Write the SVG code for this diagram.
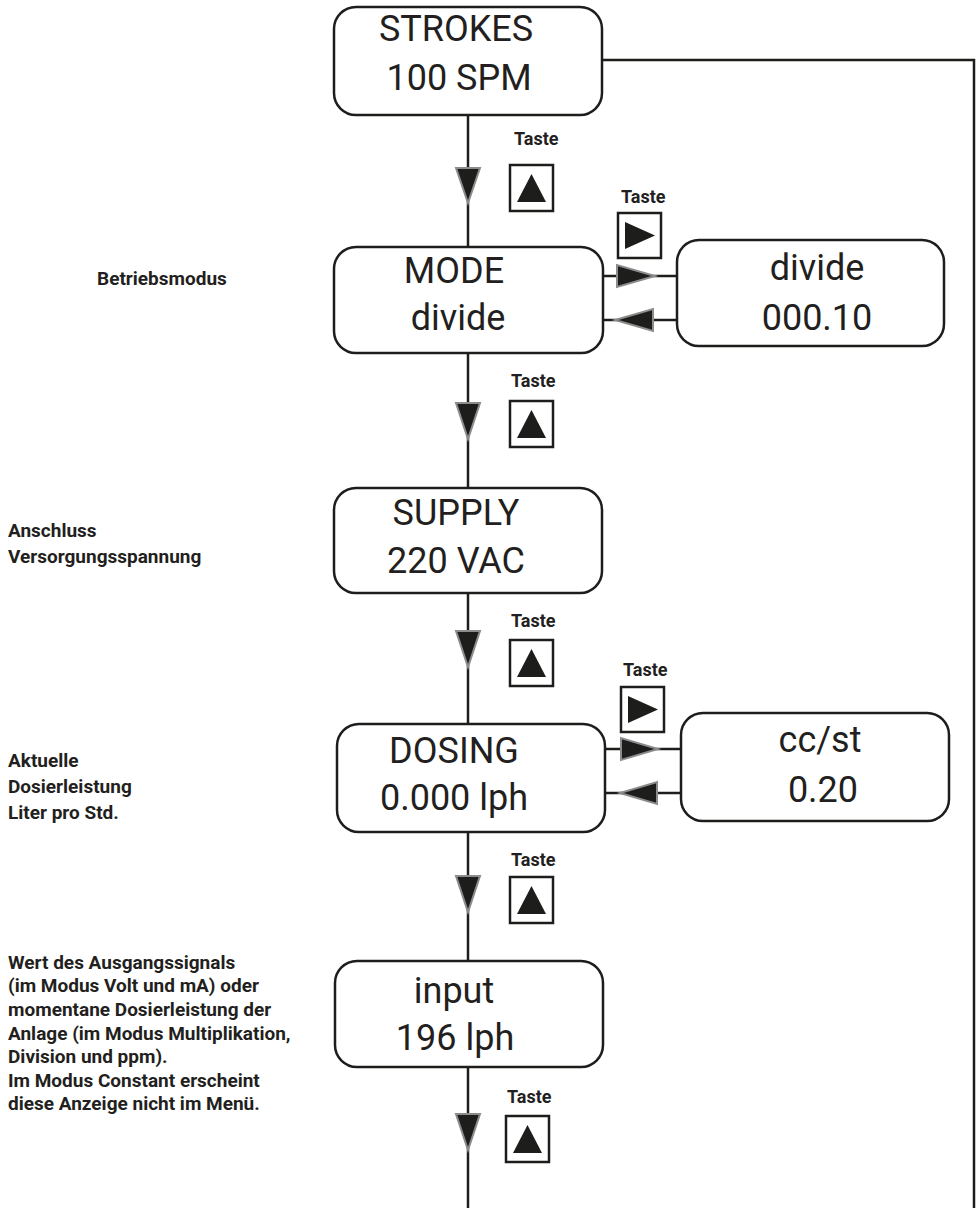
<svg xmlns="http://www.w3.org/2000/svg" width="980" height="1208" viewBox="0 0 980 1208">
<style>
.box{fill:#fff;stroke:#1d1d1b;stroke-width:2.5}
.big{font-family:Roboto,"Liberation Sans",sans-serif;font-size:36px;fill:#231f20;text-anchor:middle}
.lbl{font-family:Roboto,"Liberation Sans",sans-serif;font-weight:700;font-size:19px;fill:#231f20}
.taste{font-family:Roboto,"Liberation Sans",sans-serif;font-weight:700;font-size:18px;fill:#231f20}
.ln{fill:none;stroke:#1d1d1b;stroke-width:2.5}
.arr{fill:#1d1d1b;stroke:#8c8c8c;stroke-width:2;stroke-linejoin:miter}
.key{fill:#fff;stroke:#1d1d1b;stroke-width:2.5}
.tri{fill:#1d1d1b}
</style>
<defs>
<g id="upkey"><rect class="key" x="0" y="0" width="43" height="46"/><polygon class="tri" points="7,37 36,37 21.5,9"/></g>
<g id="rightkey"><rect class="key" x="0" y="0" width="43" height="45"/><polygon class="tri" points="7,9 7,36 37,22.5"/></g>
</defs>
<g id="connectors">
<line class="ln" x1="468" y1="115" x2="468" y2="247"/>
<line class="ln" x1="468" y1="353" x2="468" y2="488"/>
<line class="ln" x1="468" y1="593" x2="468" y2="724"/>
<line class="ln" x1="468" y1="832" x2="468" y2="961"/>
<line class="ln" x1="468" y1="1067" x2="468" y2="1208"/>
<polyline class="ln" stroke-width="3" points="602,60 974,60 974,1208"/>
<line class="ln" x1="603" y1="276" x2="677" y2="276"/>
<line class="ln" x1="603" y1="320" x2="677" y2="320"/>
<line class="ln" x1="605" y1="749" x2="681" y2="749"/>
<line class="ln" x1="605" y1="793" x2="681" y2="793"/>
<polygon class="arr" points="456,168 480,168 468,203"/>
<polygon class="arr" points="456,403 480,403 468,439"/>
<polygon class="arr" points="456,631 480,631 468,667"/>
<polygon class="arr" points="456,876 480,876 468,912"/>
<polygon class="arr" points="456,1114 480,1114 468,1150"/>
<polygon class="arr" points="617,265 617,287 655,276"/>
<polygon class="arr" points="653,309 653,331 615,320"/>
<polygon class="arr" points="621,738 621,760 658,749"/>
<polygon class="arr" points="657,782 657,804 620,793"/>
</g>
<g id="keys">
<text class="taste" x="514" y="145">Taste</text>
<use href="#upkey" x="510" y="165"/>
<text class="taste" x="511" y="387">Taste</text>
<use href="#upkey" x="510" y="401"/>
<text class="taste" x="511" y="627">Taste</text>
<use href="#upkey" x="510" y="640"/>
<text class="taste" x="511" y="866">Taste</text>
<use href="#upkey" x="510" y="877"/>
<text class="taste" x="507" y="1103">Taste</text>
<use href="#upkey" x="506" y="1116"/>
<text class="taste" x="621" y="203">Taste</text>
<use href="#rightkey" x="618" y="213"/>
<text class="taste" x="623" y="676">Taste</text>
<use href="#rightkey" x="621" y="687"/>
</g>
<g id="node-strokes">
<rect class="box" x="334" y="7" width="268" height="108" rx="22"/>
<text class="big" x="456" y="41">STROKES</text>
<text class="big" x="459" y="90">100 SPM</text>
</g>
<g id="node-mode">
<rect class="box" x="334" y="247" width="269" height="106" rx="22"/>
<text class="big" x="454" y="283">MODE</text>
<text class="big" x="458" y="330">divide</text>
</g>
<g id="node-divide">
<rect class="box" x="677" y="240" width="267" height="106" rx="22"/>
<text class="big" x="817" y="280">divide</text>
<text class="big" x="817" y="330">000.10</text>
</g>
<g id="node-supply">
<rect class="box" x="334" y="488" width="268" height="105" rx="22"/>
<text class="big" x="456" y="525">SUPPLY</text>
<text class="big" x="456" y="573">220 VAC</text>
</g>
<g id="node-dosing">
<rect class="box" x="337" y="724" width="268" height="108" rx="22"/>
<text class="big" x="454" y="763">DOSING</text>
<text class="big" x="454" y="810">0.000 lph</text>
</g>
<g id="node-ccst">
<rect class="box" x="681" y="713" width="268" height="108" rx="22"/>
<text class="big" x="820" y="752">cc/st</text>
<text class="big" x="823" y="802">0.20</text>
</g>
<g id="node-input">
<rect class="box" x="335" y="961" width="268" height="106" rx="22"/>
<text class="big" x="454" y="1003">input</text>
<text class="big" x="455" y="1050">196 lph</text>
</g>
<g id="labels">
<text class="lbl" x="97" y="285">Betriebsmodus</text>
<text class="lbl" x="8" y="537">Anschluss</text>
<text class="lbl" x="8" y="563">Versorgungsspannung</text>
<text class="lbl" x="8" y="767">Aktuelle</text>
<text class="lbl" x="8" y="793">Dosierleistung</text>
<text class="lbl" x="8" y="819">Liter pro Std.</text>
<text class="lbl" x="8" y="969">Wert des Ausgangssignals</text>
<text class="lbl" x="8" y="992">(im Modus Volt und mA) oder</text>
<text class="lbl" x="8" y="1016">momentane Dosierleistung der</text>
<text class="lbl" x="8" y="1040">Anlage (im Modus Multiplikation,</text>
<text class="lbl" x="8" y="1063">Division und ppm).</text>
<text class="lbl" x="8" y="1087">Im Modus Constant erscheint</text>
<text class="lbl" x="8" y="1110">diese Anzeige nicht im Menü.</text>
</g>
</svg>
